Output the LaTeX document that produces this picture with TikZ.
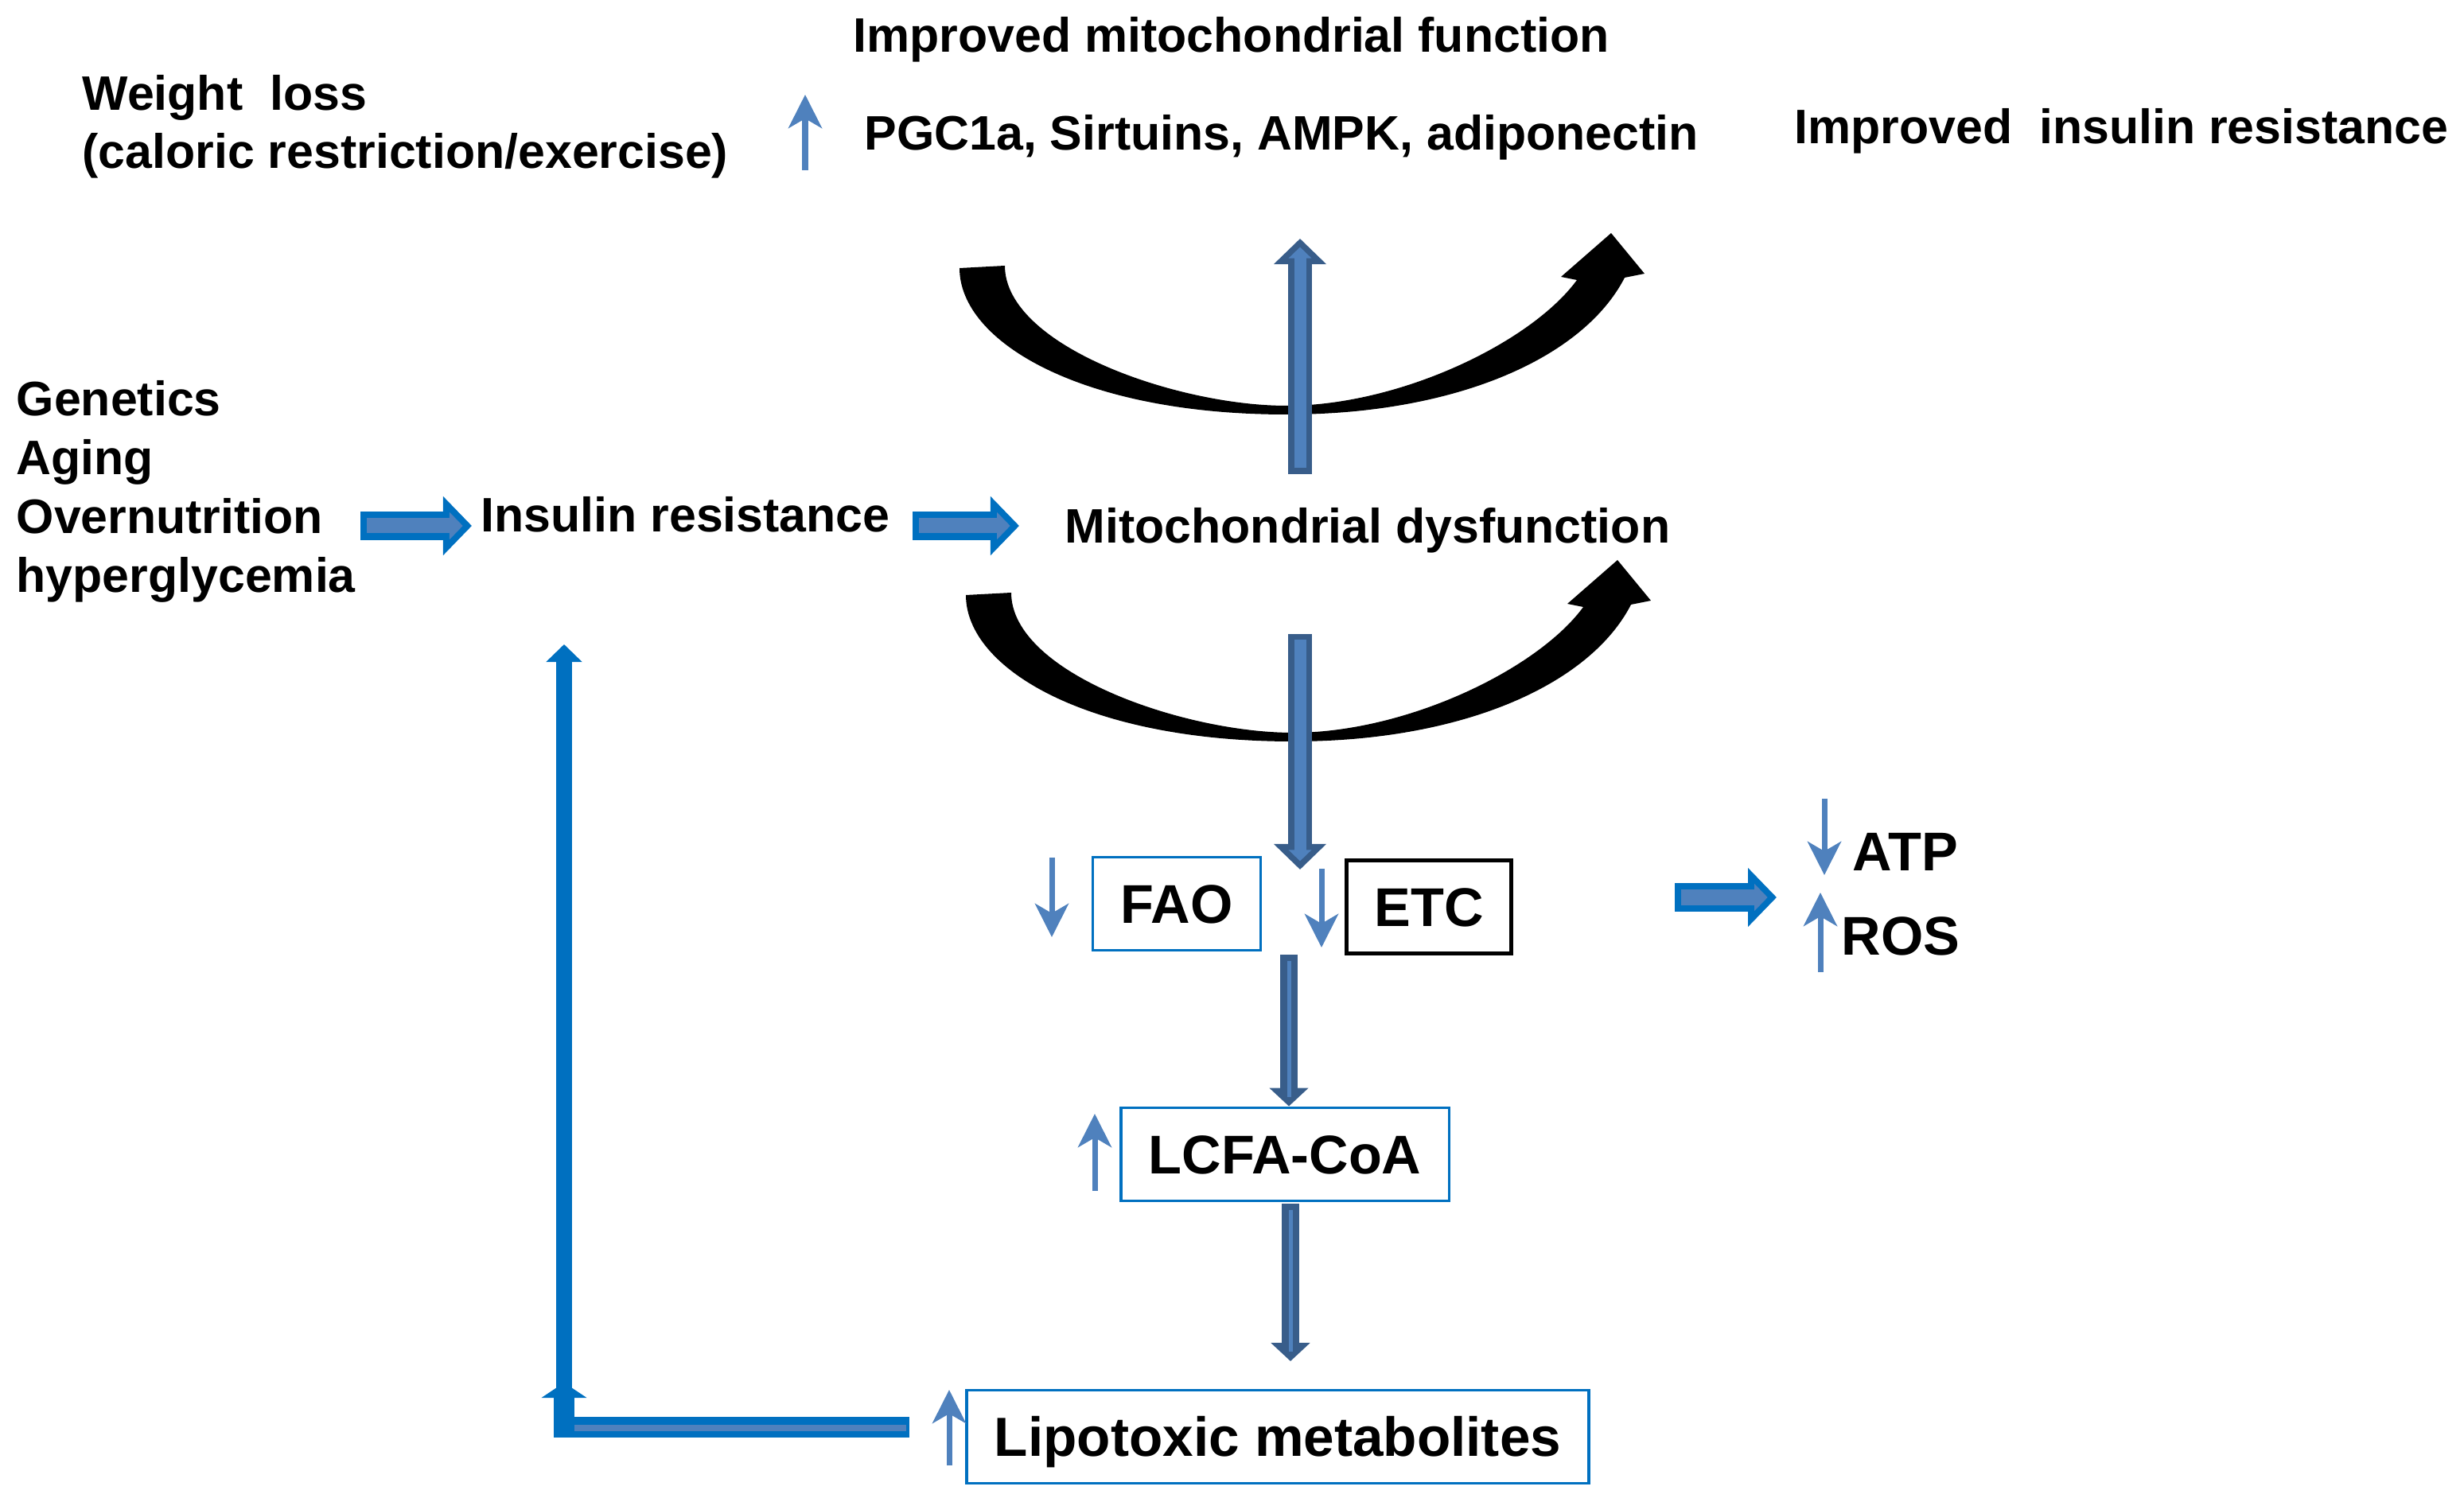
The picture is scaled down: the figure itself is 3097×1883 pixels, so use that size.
\documentclass[tikz,border=0pt]{standalone}
\usepackage{fontspec}
\setmainfont{Liberation Sans}
\usetikzlibrary{arrows.meta}
\definecolor{accent}{HTML}{4F81BD}
\definecolor{edgeblue}{HTML}{0070C0}
\definecolor{edgedark}{HTML}{385D8A}
\newcommand\lblfont{\fontsize{17.3pt}{21pt}\selectfont\bfseries}
\newcommand\boxfont{\fontsize{19.5pt}{23pt}\selectfont\bfseries}
\begin{document}
\begin{tikzpicture}[x=0.01cm,y=-0.01cm,
    lbl/.style={inner sep=0pt,anchor=base west,font=\lblfont},
    big/.style={inner sep=0pt,anchor=base west,font=\boxfont},
    stage/.style={draw=edgeblue,line width=1.1pt,font=\boxfont,inner xsep=0.35cm,
      minimum height=1.17cm,text height=13.96pt,text depth=0pt},
    updown/.style={draw=accent,line width=2pt,-{Stealth[length=0.42cm,width=0.42cm,inset=0.12cm]}},
    fatblue/.style={draw=accent,line width=0.19cm,-{Triangle[length=0.167cm,width=0.334cm]},
      shorten <=0.08cm,shorten >=0.113cm,
      preaction={draw=edgeblue,line width=0.35cm,-{Triangle[length=0.36cm,width=0.72cm]},
        shorten <=0cm,shorten >=0cm}},
    fatdark/.style={draw=accent,line width=0.15cm,-{Triangle[length=0.14cm,width=0.28cm]},
      shorten <=0.075cm,shorten >=0.106cm,
      preaction={draw=edgedark,line width=0.30cm,-{Triangle[length=0.32cm,width=0.64cm]},
        shorten <=0cm,shorten >=0cm}},
    slimdark/.style={draw=accent,line width=0.05cm,shorten <=0.08cm,shorten >=0.12cm,
      preaction={draw=edgedark,line width=0.22cm,-{Triangle[length=0.23cm,width=0.48cm]},
        shorten <=0cm,shorten >=0cm}}]
  \useasboundingbox (0,0) rectangle (3097,1883);

  % labels
  \node[lbl] (wl1) at (103,139) {Weight\ \ loss};
  \node[lbl] (wl2) at (103,212) {(caloric restriction/exercise)};
  \node[lbl] (impmito) at (1072,66) {Improved mitochondrial function};
  \node[lbl] (pgc) at (1086,189) {PGC1a, Sirtuins, AMPK, adiponectin};
  \node[lbl] (impins) at (2255,181) {Improved\ \ insulin resistance};
  \foreach \t [count=\i] in {Genetics,Aging,Overnutrition,hyperglycemia}
    \node[lbl] (gen\i) at (20,449+74*\i) {\t};
  \node[lbl] (insulin) at (604,669) {Insulin resistance};
  \node[lbl] (mito) at (1338,683) {Mitochondrial dysfunction};
  \node[stage] (fao) at (1479,1136) {FAO};
  \node[stage,draw=black,line width=1.4pt] (etc) at (1796,1140) {ETC};
  \node[stage] (lcfa) at (1615,1451) {LCFA-CoA};
  \node[stage,font=\fontsize{19.7pt}{23pt}\selectfont\bfseries] (lipo) at (1606,1806) {Lipotoxic metabolites};
  \node[big] (atp) at (2328,1095) {ATP};
  \node[big] (ros) at (2314,1200) {ROS};

  % black curved arrows
  \foreach \dx/\dy in {0/0,8/411}
    \fill[shift={(\dx,\dy)}] (1206,337) .. controls (1206,430) and (1360,521) .. (1617,521)
      .. controls (1830,521) and (1990,450) .. (2042,349) -- (2067,344) -- (2025,293)
      -- (1962,348) -- (1982,352) .. controls (1925,430) and (1760,510) .. (1617,510)
      .. controls (1480,510) and (1263,435) .. (1263,334) -- cycle;

  % connector ends
  \coordinate (h1a) at (453,661);
  \coordinate (h1b) at (593,661);
  \coordinate (h2a) at (1147,661);
  \coordinate (h2b) at (1281,661);
  \coordinate (h3a) at (2105,1128);
  \coordinate (h3b) at (2233,1128);
  \coordinate (upa) at (1634,596);
  \coordinate (upb) at (1634,300);
  \coordinate (dna) at (1634,797);
  \coordinate (dnb) at (1634,1093);
  \coordinate (fork) at (1620,1200);
  \coordinate (lcfaout) at (1622,1513);
  \coordinate (lipoin) at (1622,1711);
  \coordinate (fb0) at (1143,1794);
  \coordinate (fb1) at (709,1738);
  \coordinate (fb2) at (709,1757);
  \coordinate (fb3) at (709,810);

  \draw[fatblue] (h1a) -- (h1b);
  \draw[fatblue] (h2a) -- (h2b);
  \draw[fatblue] (h3a) -- (h3b);
  \draw[fatdark] (upa) -- (upb);
  \draw[fatdark] (dna) -- (dnb);
  \draw[slimdark] (fork) -- (fork |- lcfa.north);
  \draw[slimdark] (lcfaout) -- (lipoin);

  % feedback
  \draw[edgeblue,line width=0.26cm,line join=miter,-{Triangle[length=0.19cm,width=0.56cm]}] (fb0) -| (fb1);
  \draw[accent,line width=0.08cm] (1139,1795) -- (722,1795);
  \draw[edgeblue,line width=0.2cm,-{Triangle[length=0.22cm,width=0.44cm]}] (fb2) -- (fb3);

  % up / down marks
  \draw[updown] (1012,214) -- (1012,119);
  \draw[updown] (1322,1078) -- (1322,1178);
  \draw[updown] (1661,1092) -- (1661,1191);
  \draw[updown] (1376,1497) -- (1376,1400);
  \draw[updown] (1193,1842) -- (1193,1747);
  \draw[updown] (2293,1004) -- (2293,1100);
  \draw[updown] (2288,1222) -- (2288,1122);
\end{tikzpicture}
\end{document}
